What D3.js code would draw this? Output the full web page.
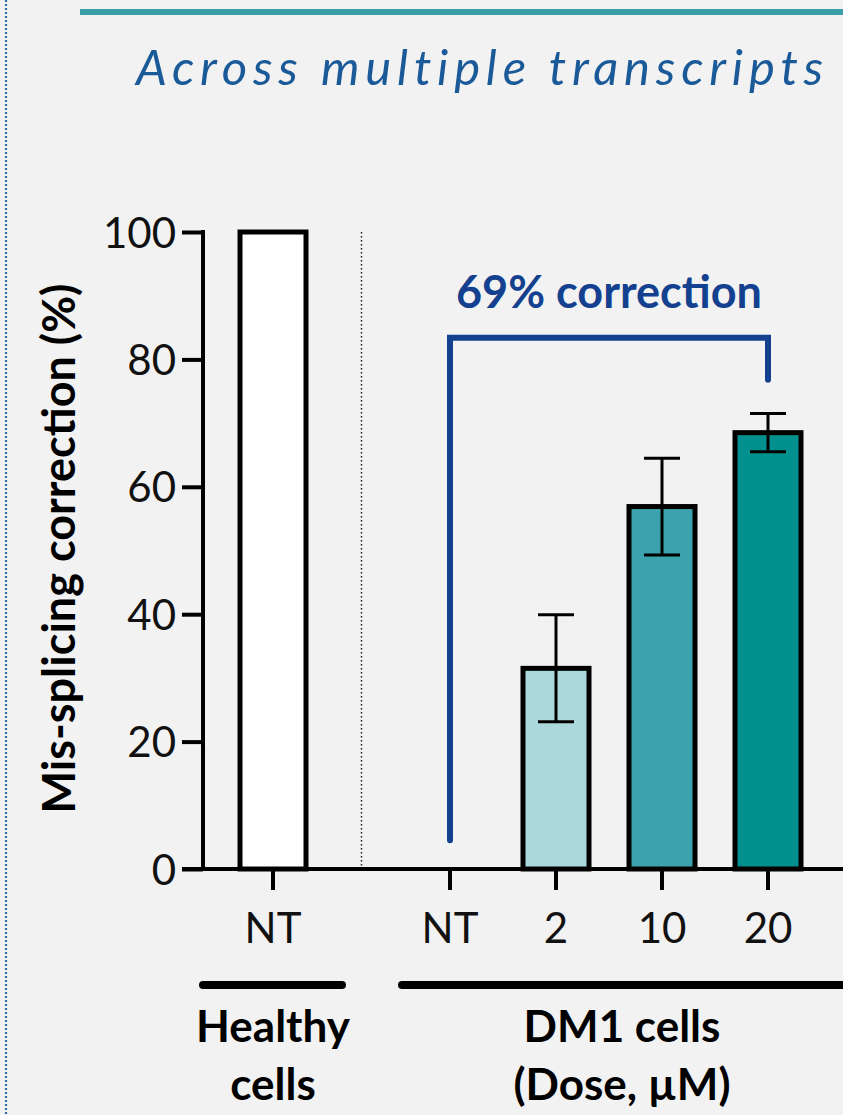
<!DOCTYPE html>
<html>
<head>
<meta charset="utf-8">
<script src="https://cdn.jsdelivr.net/npm/d3@7"></script>
<style>
  html, body { margin: 0; padding: 0; background: #f2f2f2; }
  svg { display: block; }
</style>
</head>
<body>
<div id="chart"></div>
<script>
// ---- data ----
const groups = ["Healthy", "DM1"];
const groupTitles = [["Healthy", "cells"], ["DM1 cells", "(Dose, µM)"]];
const categories = ["NT", "NT", "2", "10", "20"];
const categoryGroup = [0, 1, 1, 1, 1];
const values = [100, 0, 31.5, 56.9, 68.5];
const errors = [0, 0, 8.4, 7.6, 3.0];
const fills = ["#ffffff", "#ffffff", "#abd8da", "#3ca3ae", "#00918e"];
const yTicks = [0, 20, 40, 60, 80, 100];
const correctionLabel = "69% correction";
const bracketLevels = { start: 4.5, top: 83.4, end: 76.8 };
const title = "Across multiple transcripts";
const yTitle = "Mis-splicing correction (%)";

const W = 843, H = 1115;
const groupGap = 0.67;
const FONT = "Lato, 'Open Sans', sans-serif";

const svg = d3.select("#chart").append("svg")
  .attr("width", W).attr("height", H);

svg.append("rect").attr("width", W).attr("height", H).attr("fill", "#f2f2f2");

// left dotted frame edge and top rule
svg.append("line")
  .attr("x1", 6).attr("x2", 6).attr("y1", 0).attr("y2", H)
  .attr("stroke", "#2d6db0").attr("stroke-width", 2.2)
  .attr("stroke-dasharray", "2,2");
svg.append("line")
  .attr("x1", 80).attr("x2", W).attr("y1", 12).attr("y2", 12)
  .attr("stroke", "#3a9ea8").attr("stroke-width", 6);

// title
svg.append("text")
  .attr("x", 829).attr("y", 85)
  .attr("text-anchor", "end")
  .attr("font-family", FONT)
  .attr("font-style", "italic")
  .attr("font-size", 49)
  .attr("letter-spacing", 5.8)
  .attr("fill", "#1b5a98")
  .text(title);

// ---- scales ----
const slot = categories.map((c, i) => i + categoryGroup[i] * groupGap);
const x = d3.scaleLinear().domain([0, slot[slot.length - 1]]).range([273, 768]);
const y = d3.scaleLinear().domain([0, 100]).range([869, 232]);
const barW = 66;

const g = svg.append("g");

// y axis
const yAxis = g.append("g")
  .attr("transform", "translate(203,0)")
  .call(d3.axisLeft(y).tickValues(yTicks).tickSize(21).tickPadding(6));
yAxis.select(".domain").remove();
yAxis.selectAll(".tick line").attr("stroke", "#000").attr("stroke-width", 4);
yAxis.selectAll(".tick text")
  .attr("font-family", FONT)
  .attr("font-weight", 400)
  .attr("font-size", 42)
  .attr("fill", "#111")
  .attr("dy", "0.36em");
g.append("line")
  .attr("x1", 203).attr("x2", 203).attr("y1", y(100) - 2).attr("y2", y(0))
  .attr("stroke", "#000").attr("stroke-width", 4);

// y title
g.append("text")
  .attr("transform", `translate(75,${(y(0) + y(100)) / 2 - 2}) rotate(-90)`)
  .attr("text-anchor", "middle")
  .attr("font-family", FONT)
  .attr("font-weight", 700)
  .attr("font-size", 45)
  .attr("fill", "#000")
  .text(yTitle);

// separator between groups
const sepX = x((slot[0] + slot[1]) / 2);
g.append("line")
  .attr("x1", sepX).attr("x2", sepX).attr("y1", y(100)).attr("y2", y(0))
  .attr("stroke", "#222").attr("stroke-width", 1.5)
  .attr("stroke-dasharray", "1.5,2.5");

// bars
const idx = d3.range(categories.length);
g.selectAll("rect.bar")
  .data(idx.filter(i => values[i] > 0))
  .join("rect")
  .attr("class", "bar")
  .attr("x", i => x(slot[i]) - barW / 2)
  .attr("width", barW)
  .attr("y", i => y(values[i]))
  .attr("height", i => y(0) - y(values[i]))
  .attr("fill", i => fills[i])
  .attr("stroke", "#000")
  .attr("stroke-width", 5);

// error bars
const errIdx = idx.filter(i => errors[i] > 0);
const eg = g.selectAll("g.err").data(errIdx).join("g").attr("class", "err");
eg.append("line")
  .attr("x1", i => x(slot[i])).attr("x2", i => x(slot[i]))
  .attr("y1", i => y(values[i] + errors[i])).attr("y2", i => y(values[i] - errors[i]))
  .attr("stroke", "#000").attr("stroke-width", 3);
eg.selectAll("line.cap")
  .data(i => [[i, values[i] + errors[i]], [i, values[i] - errors[i]]])
  .join("line").attr("class", "cap")
  .attr("x1", d => x(slot[d[0]]) - 18).attr("x2", d => x(slot[d[0]]) + 18)
  .attr("y1", d => y(d[1])).attr("y2", d => y(d[1]))
  .attr("stroke", "#000").attr("stroke-width", 3);

// x axis
g.append("line")
  .attr("x1", 182).attr("x2", W).attr("y1", y(0)).attr("y2", y(0))
  .attr("stroke", "#000").attr("stroke-width", 4);
g.selectAll("line.xtick").data(idx).join("line").attr("class", "xtick")
  .attr("x1", i => x(slot[i])).attr("x2", i => x(slot[i]))
  .attr("y1", y(0)).attr("y2", y(0) + 21)
  .attr("stroke", "#000").attr("stroke-width", 4);
g.selectAll("text.xlab").data(idx).join("text").attr("class", "xlab")
  .attr("x", i => x(slot[i])).attr("y", 943)
  .attr("text-anchor", "middle")
  .attr("font-family", FONT)
  .attr("font-weight", 400)
  .attr("font-size", 42)
  .attr("fill", "#111")
  .text(i => categories[i]);

// group underlines and titles
const groupSpan = [[203, 342], [402, W]];
groups.forEach((gr, k) => {
  const [a, b] = groupSpan[k];
  g.append("line")
    .attr("x1", a).attr("x2", b).attr("y1", 985).attr("y2", 985)
    .attr("stroke", "#000").attr("stroke-width", 8).attr("stroke-linecap", "round");
  const members = idx.filter(i => categoryGroup[i] === k);
  const cx = k === 0 ? x(slot[members[0]]) : 622;
  groupTitles[k].forEach((line, j) => {
    g.append("text")
      .attr("x", cx).attr("y", 1042 + j * 58)
      .attr("text-anchor", "middle")
      .attr("font-family", FONT)
      .attr("font-weight", 700)
      .attr("font-size", 44)
      .attr("fill", "#000")
      .text(line);
  });
});

// correction bracket
const bx0 = x(slot[1]), bx1 = x(slot[4]);
g.append("path")
  .attr("d", `M${bx0},${y(bracketLevels.start)} V${y(bracketLevels.top)} H${bx1} V${y(bracketLevels.end)}`)
  .attr("fill", "none")
  .attr("stroke", "#13418f")
  .attr("stroke-width", 6)
  .attr("stroke-linecap", "round")
  .attr("stroke-linejoin", "miter");
g.append("text")
  .attr("x", (bx0 + bx1) / 2).attr("y", 308)
  .attr("text-anchor", "middle")
  .attr("font-family", FONT)
  .attr("font-weight", 700)
  .attr("font-size", 45)
  .attr("fill", "#13418f")
  .text(correctionLabel);
</script>
</body>
</html>
